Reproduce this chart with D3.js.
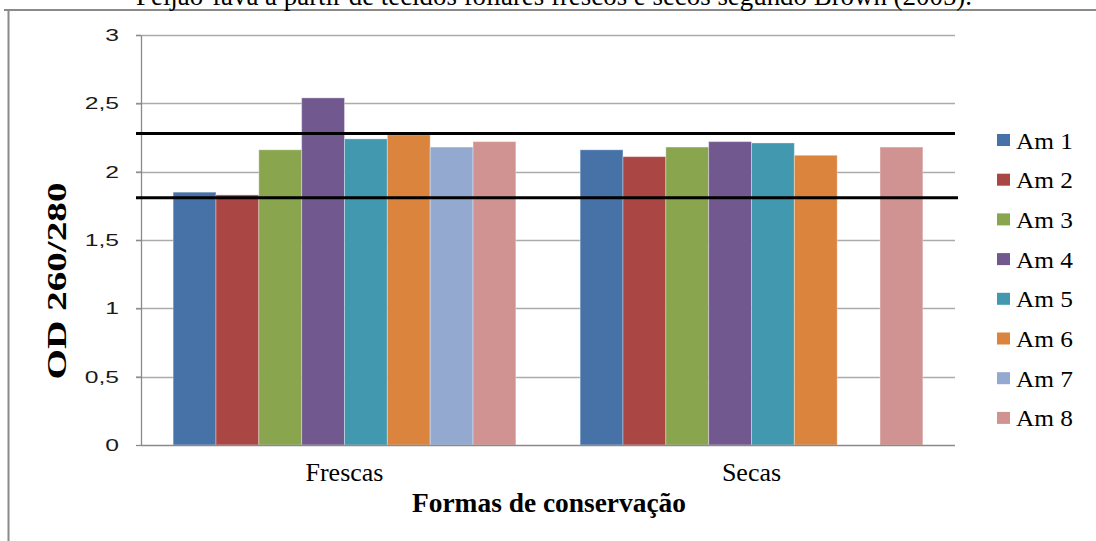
<!DOCTYPE html>
<html><head><meta charset="utf-8">
<script src="https://cdn.jsdelivr.net/npm/d3@7"></script>
<style>
html,body{margin:0;padding:0;background:#fff;overflow:hidden;}
svg{display:block;}
</style></head>
<body>
<svg id="chart" width="1096" height="541"></svg>
<script>
const categories = ["Frescas", "Secas"];
const seriesNames = ["Am 1","Am 2","Am 3","Am 4","Am 5","Am 6","Am 7","Am 8"];
const frescas = [1.85, 1.83, 2.16, 2.54, 2.24, 2.27, 2.18, 2.22];
const secas   = [2.16, 2.11, 2.18, 2.22, 2.21, 2.12, null, 2.18];
const colors = ["#4672A8","#AA4644","#89A54E","#71598F","#4198AF","#DB843D","#93A9CF","#D19392"];
const yTicks = [0, 0.5, 1, 1.5, 2, 2.5, 3];
const yTickLabels = ["0","0,5","1","1,5","2","2,5","3"];
const refLines = [2.28, 1.81];
const titleText = "Feijão-fava a partir de tecidos foliares frescos e secos segundo Brown (2005).";
const yTitle = "OD 260/280";
const xTitle = "Formas de conservação";

const values = [frescas, secas];
const svg = d3.select("#chart");
const serif = "'Liberation Serif','Times New Roman',serif";

// frame
svg.append("line").attr("x1",4).attr("x2",1096).attr("y1",10).attr("y2",10)
  .attr("stroke","#8a8a8a").attr("stroke-width",2);
svg.append("line").attr("x1",8.5).attr("x2",8.5).attr("y1",10).attr("y2",541)
  .attr("stroke","#8a8a8a").attr("stroke-width",2);

// title (partly cut by the top edge, as in the reference)
svg.append("text").attr("x",554).attr("y",5).attr("text-anchor","middle")
  .attr("font-family",serif).attr("font-size",27).attr("fill","#000")
  .attr("textLength",836).attr("lengthAdjust","spacingAndGlyphs")
  .text(titleText);

const plot = {left:141, right:955, top:35, bottom:445};
const y = d3.scaleLinear().domain([0,3]).range([plot.bottom, plot.top]);
const x0 = d3.scaleBand().domain(categories).range([plot.left, plot.right]).padding(0);
const x1 = d3.scaleBand().domain(seriesNames).range([0, x0.bandwidth()]).paddingInner(0).paddingOuter(0.75);

// gridlines
svg.append("g").selectAll("line").data(yTicks.filter(d=>d>0)).join("line")
  .attr("x1",136).attr("x2",plot.right)
  .attr("y1",d=>Math.round(y(d))+0.5).attr("y2",d=>Math.round(y(d))+0.5)
  .attr("stroke","#ababab").attr("stroke-width",1.3);

// bars
const groups = svg.append("g").selectAll("g").data(categories).join("g")
  .attr("transform",c=>`translate(${x0(c)},0)`);
groups.each(function(c, ci){
  const data = seriesNames.map((s,i)=>({s, v: values[ci][i], i})).filter(d=>d.v!=null);
  d3.select(this).selectAll("rect").data(data).join("rect")
    .attr("x",d=>x1(d.s)).attr("width",x1.bandwidth())
    .attr("y",d=>y(d.v)).attr("height",d=>y(0)-y(d.v))
    .attr("fill",d=>colors[d.i])
    .attr("stroke","rgba(255,255,255,0.35)").attr("stroke-width",1);
});

// y axis
const yAxis = d3.axisLeft(y).tickValues(yTicks).tickFormat((d,i)=>yTickLabels[i])
  .tickSizeInner(5).tickSizeOuter(0).tickPadding(17);
const yg = svg.append("g").attr("transform",`translate(${plot.left},0)`).call(yAxis);
yg.select(".domain").attr("stroke","#8a8a8a").attr("stroke-width",1.3);
yg.selectAll(".tick line").attr("stroke","#8a8a8a").attr("stroke-width",1.3);
yg.selectAll(".tick text").attr("font-family","'Liberation Sans',Arial,sans-serif")
  .attr("font-size",17).attr("fill","#1a1a1a")
  .each(function(){ const l=this.getComputedTextLength(); d3.select(this).attr("textLength",l*1.45).attr("lengthAdjust","spacingAndGlyphs"); });

// x axis
svg.append("line").attr("x1",plot.left).attr("x2",plot.right)
  .attr("y1",plot.bottom+0.5).attr("y2",plot.bottom+0.5)
  .attr("stroke","#8a8a8a").attr("stroke-width",1.3);
svg.append("g").selectAll("text").data(categories).join("text")
  .attr("x",c=>x0(c)+x0.bandwidth()/2).attr("y",481)
  .attr("text-anchor","middle").attr("font-family",serif).attr("font-size",26)
  .attr("fill","#000").text(c=>c);

// reference lines
svg.append("g").selectAll("line").data(refLines).join("line")
  .attr("x1",136).attr("x2",(d,i)=>i===0?955:958)
  .attr("y1",d=>y(d)).attr("y2",d=>y(d))
  .attr("stroke","#000").attr("stroke-width",3);

// axis titles
svg.append("text").attr("x",549).attr("y",512).attr("text-anchor","middle")
  .attr("font-family",serif).attr("font-weight","bold").attr("font-size",28)
  .attr("textLength",274).attr("lengthAdjust","spacingAndGlyphs")
  .attr("fill","#000").text(xTitle);
svg.append("text").attr("transform","translate(66,281) rotate(-90)")
  .attr("text-anchor","middle").attr("font-family",serif).attr("font-weight","bold")
  .attr("font-size",28).attr("textLength",197).attr("lengthAdjust","spacingAndGlyphs")
  .attr("fill","#000").text(yTitle);

// legend
const lg = svg.append("g").selectAll("g").data(seriesNames).join("g")
  .attr("transform",(d,i)=>`translate(997,${140 + i*39.7})`);
lg.append("rect").attr("x",0).attr("y",-6).attr("width",13).attr("height",12)
  .attr("fill",(d,i)=>colors[i]);
lg.append("text").attr("x",19).attr("y",8.5).attr("font-family",serif)
  .attr("font-size",24).attr("fill","#000")
  .attr("textLength",57).attr("lengthAdjust","spacingAndGlyphs").text(d=>d);
</script>
</body></html>
